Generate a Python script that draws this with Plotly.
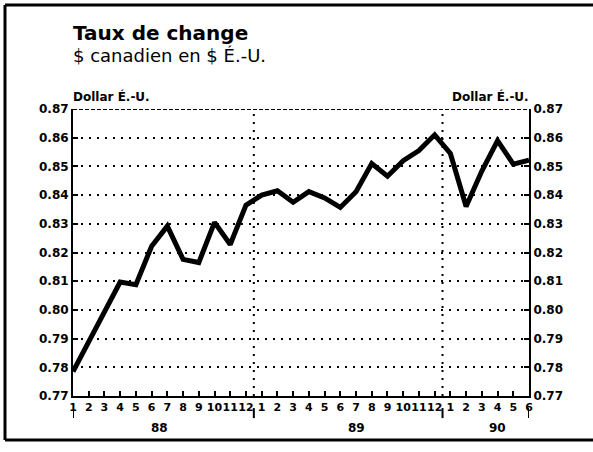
import plotly.graph_objects as go

title = "Taux de change"
subtitle = "$ canadien en $ É.-U."
unit_label = "Dollar É.-U."

months = ["1","2","3","4","5","6","7","8","9","10","11","12",
          "1","2","3","4","5","6","7","8","9","10","11","12",
          "1","2","3","4","5","6"]
rates = [0.7785, 0.7888, 0.7995, 0.8097, 0.8088, 0.8222, 0.8292, 0.8176,
         0.8165, 0.8305, 0.8228, 0.8365,
         0.8400, 0.8415, 0.8375, 0.8412, 0.8390, 0.8357, 0.8412, 0.8510,
         0.8466, 0.8520, 0.8555, 0.8610,
         0.8545, 0.8360, 0.8484, 0.8590, 0.8508, 0.8522]
years = ["88", "89", "90"]
year_label_pos = [5.5, 18.0, 27.0]
year_bounds = [0, 11.5, 23.5, 29]
y_ticks = [0.77, 0.78, 0.79, 0.80, 0.81, 0.82, 0.83, 0.84, 0.85, 0.86, 0.87]

x = list(range(len(rates)))
FONT = "DejaVu Sans"

fig = go.Figure()
fig.add_trace(go.Scatter(x=x, y=rates, mode="lines",
                         line=dict(color="black", width=5),
                         hoverinfo="skip", showlegend=False))
fig.add_trace(go.Scatter(x=[x[0]], y=[rates[0]], yaxis="y2", mode="lines",
                         line=dict(color="rgba(0,0,0,0)"), hoverinfo="skip",
                         showlegend=False))

yaxis_common = dict(range=[y_ticks[0], y_ticks[-1]], tickvals=y_ticks,
                    tickformat=".2f", ticks="inside", ticklen=5, tickwidth=1.5,
                    tickcolor="black", showline=True, linecolor="black",
                    linewidth=2, zeroline=False,
                    tickfont=dict(family=FONT, size=12, color="black",
                                  weight="bold"))

fig.update_layout(
    width=593, height=452,
    margin=dict(l=73, r=64, t=109, b=56),
    paper_bgcolor="white", plot_bgcolor="white",
    xaxis=dict(range=[0, len(rates) - 1], tickvals=x, ticktext=months,
               tickangle=0, ticks="inside", ticklen=5, tickwidth=1.5,
               tickcolor="black", showline=True, linecolor="black",
               linewidth=2, showgrid=False, zeroline=False,
               tickfont=dict(family=FONT, size=11, color="black",
                             weight="bold")),
    yaxis=dict(side="left", showgrid=True, gridcolor="black", gridwidth=2,
               griddash="2px,6px", **yaxis_common),
    yaxis2=dict(side="right", overlaying="y", showgrid=False, **yaxis_common),
)

PW, PH = 456.0, 287.0
def px_x(p):
    return (p - 73) / PW
def px_y(p):
    return (396 - p) / PH

shapes = []
# year separators (dotted, inside plot)
for b in year_bounds[1:-1]:
    shapes.append(dict(type="line", xref="x", yref="y", x0=b, x1=b,
                       y0=y_ticks[0], y1=y_ticks[-1],
                       line=dict(color="black", width=2, dash="2px,6px")))
# top dense dashed border
shapes.append(dict(type="line", xref="paper", yref="y", x0=0, x1=1,
                   y0=y_ticks[-1], y1=y_ticks[-1],
                   line=dict(color="black", width=2, dash="4px,2px")))
# year marks below month labels
for b in year_bounds:
    shapes.append(dict(type="line", xref="x", yref="paper", x0=b, x1=b,
                       y0=-0.042, y1=-0.077,
                       line=dict(color="black", width=2)))
# outer frame: top, left, bottom (right edge is off the page)
frame = [((5, 5), (600, 5)), ((5, 5), (5, 440)), ((5, 440), (600, 440))]
for (xa, ya), (xb, yb) in frame:
    shapes.append(dict(type="line", xref="paper", yref="paper",
                       x0=px_x(xa), y0=px_y(ya), x1=px_x(xb), y1=px_y(yb),
                       line=dict(color="black", width=3)))
fig.update_layout(shapes=shapes)

ann = []
for lab, pos in zip(years, year_label_pos):
    ann.append(dict(x=pos, y=-0.112, xref="x", yref="paper", text=lab,
                    showarrow=False, xanchor="center", yanchor="middle",
                    font=dict(family=FONT, size=12, color="black",
                              weight="bold")))
ann.append(dict(x=0, y=px_y(33), xref="paper",
                yref="paper", text="<b>" + title + "</b>", showarrow=False,
                xanchor="left", yanchor="middle", xshift=-2,
                font=dict(family=FONT, size=20, color="black")))
ann.append(dict(x=0, y=px_y(55), xref="paper",
                yref="paper", text=subtitle, showarrow=False,
                xanchor="left", yanchor="middle", xshift=-2,
                font=dict(family=FONT, size=18, color="black")))
ann.append(dict(x=0, y=px_y(97), xref="paper", yref="paper",
                text=unit_label, showarrow=False, xanchor="left",
                yanchor="middle", xshift=-2,
                font=dict(family=FONT, size=12, color="black",
                          weight="bold")))
ann.append(dict(x=1, y=px_y(97), xref="paper", yref="paper",
                text=unit_label, showarrow=False, xanchor="right",
                yanchor="middle", xshift=2,
                font=dict(family=FONT, size=12, color="black",
                          weight="bold")))
fig.update_layout(annotations=ann)

fig.write_html("out.html",
               config={"displayModeBar": False},
               post_script="document.body.style.margin='0';"
                           "document.body.style.overflow='hidden';")
